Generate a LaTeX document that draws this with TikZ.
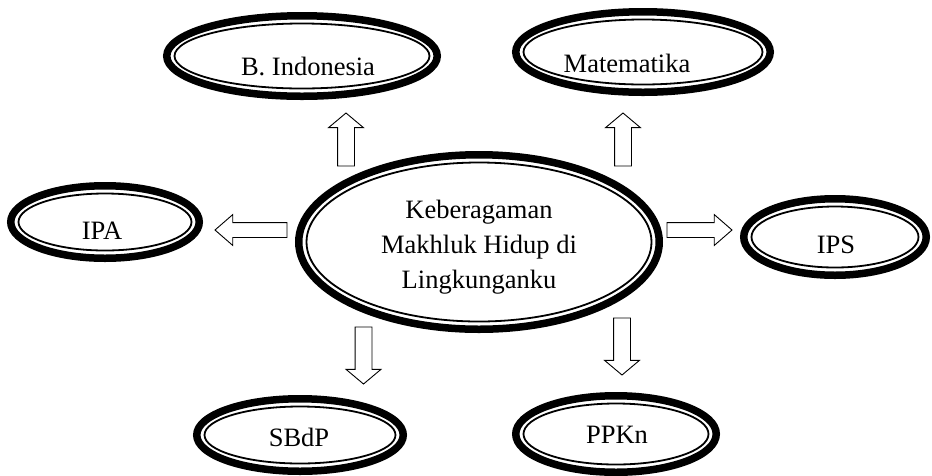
\documentclass[tikz,border=0pt]{standalone}
\usepackage{fontspec}
\setmainfont{Liberation Serif}
\usetikzlibrary{shapes.geometric,shapes.arrows}
\tikzset{
  topic/.style={ellipse, draw, line width=7.5pt, inner sep=0pt, outer sep=0pt},
  lbl/.style={font=\fontsize{26.5}{35}\selectfont, inner sep=0pt, anchor=base},
  barrow/.style={single arrow, draw, line width=0.9pt, fill=white, inner xsep=0pt,
    inner ysep=8pt, single arrow head extend=9pt, single arrow tip angle=100,
    minimum height=#1, anchor=tail, outer sep=0pt},
  harrow/.style={barrow=#1, inner ysep=7pt, single arrow head extend=8pt, single arrow tip angle=82},
}
\newcommand\topicnode[5]{%
  \node[topic, minimum width={2*#4pt-7.5pt}, minimum height={2*#5pt-7.5pt}] (#1) at (#2,#3) {};
  \draw[line width=1.8pt] (#1.center) ellipse [x radius={#4pt-11.5pt}, y radius={#5pt-11.5pt}];
}
\begin{document}
\begin{tikzpicture}[x=1pt,y=-1pt]
\useasboundingbox (0,0) rectangle (932,475);
% topic ellipses
\topicnode{bind}{302}{56}{139}{44}
\topicnode{mat}{643}{52}{131}{44}
\topicnode{ipa}{105}{222}{98}{40}
\topicnode{tema}{479}{242}{184}{91}
\topicnode{ips}{835}{237}{95}{42}
\topicnode{sbdp}{300}{435}{107}{40}
\topicnode{ppkn}{616}{434}{104}{42}
% labels
\node[lbl] (bind-t) at (308,75) {B. Indonesia};
\node[lbl] (mat-t) at (627,72) {Matematika};
\node[lbl] (ipa-t) at (102,239) {IPA};
\node[lbl] (ips-t) at (836,253) {IPS};
\node[lbl] (sbdp-t) at (299,446) {SBdP};
\node[lbl] (ppkn-t) at (617,443) {PPKn};
\node[lbl, anchor=center, align=center] (tema-t) at (479,247) {Keberagaman\\Makhluk Hidup di\\Lingkunganku};
% block arrows
\node[barrow=53pt, rotate=90] (a-bind) at (346,166) {};
\node[barrow=53pt, rotate=90] (a-mat) at (623,166) {};
\node[harrow=72pt, rotate=180] (a-ipa) at (287,230) {};
\node[harrow=65pt] (a-ips) at (667,230) {};
\node[barrow=57pt, rotate=-90] (a-sbdp) at (363.5,327) {};
\node[barrow=57pt, rotate=-90] (a-ppkn) at (622,318) {};
\end{tikzpicture}
\end{document}
